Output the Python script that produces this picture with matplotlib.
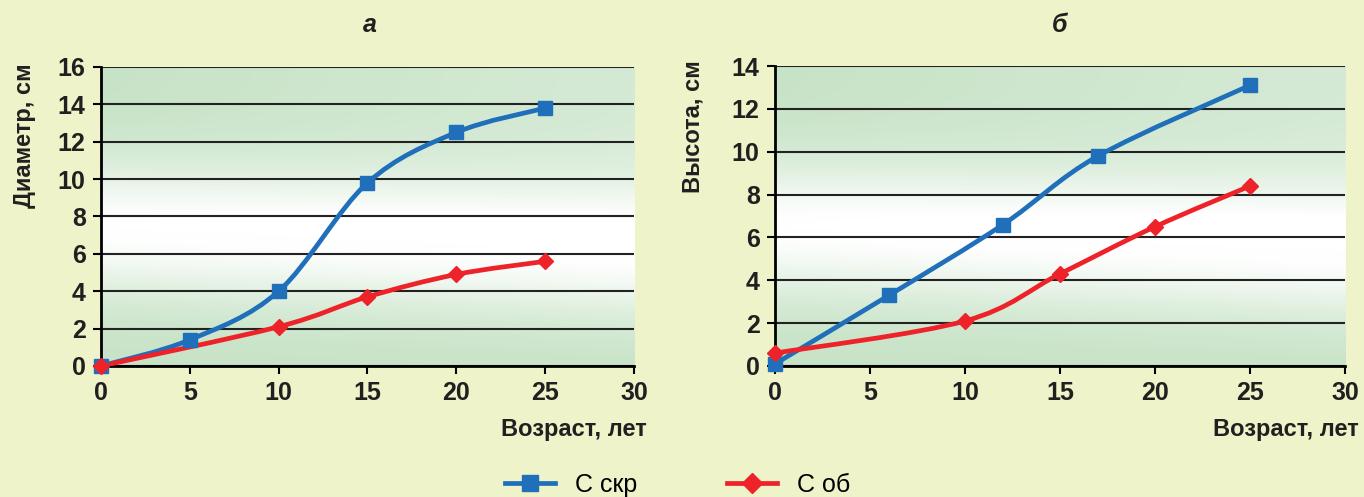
import numpy as np
import matplotlib
matplotlib.use("Agg")
import matplotlib.pyplot as plt
from matplotlib.path import Path
from matplotlib.patches import PathPatch
from matplotlib.lines import Line2D

# --- data ---
age_a_skr = [0, 5, 10, 15, 20, 25]
diam_skr = [0, 1.4, 4.0, 9.8, 12.5, 13.8]
age_a_ob = [0, 10, 15, 20, 25]
diam_ob = [0, 2.1, 3.7, 4.9, 5.6]

age_b_skr = [0, 6, 12, 17, 25]
height_skr = [0.1, 3.3, 6.6, 9.8, 13.1]
age_b_ob = [0, 10, 15, 20, 25]
height_ob = [0.6, 2.1, 4.3, 6.5, 8.4]

x_ticks = [0, 5, 10, 15, 20, 25, 30]
series_names = ["С скр", "С об"]

BG = "#eef3c9"
BLUE = "#1f6fba"
RED = "#ee2229"
FONT = ["Liberation Sans Narrow", "Liberation Sans", "DejaVu Sans"]

plt.rcParams["font.family"] = FONT


def smooth_path(xs, ys):
    """Excel-like smoothed line as cubic Bezier segments."""
    pts = np.column_stack([xs, ys]).astype(float)
    n = len(pts)
    verts = [pts[0]]
    codes = [Path.MOVETO]
    for i in range(n - 1):
        p0 = pts[i - 1] if i > 0 else pts[i]
        p1 = pts[i]
        p2 = pts[i + 1]
        p3 = pts[i + 2] if i + 2 < n else pts[i + 1]
        c1 = p1 + (p2 - p0) / 6.0
        c2 = p2 - (p3 - p1) / 6.0
        verts += [c1, c2, p2]
        codes += [Path.CURVE4] * 3
    return Path(verts, codes)


def gradient(ax, ymax):
    u = np.linspace(0, 1, 200)
    v = np.linspace(0, 1, 200)
    U, V = np.meshgrid(u, v)
    centre = 0.42 - 0.08 * (U - 0.5)
    w = np.exp(-((V - centre) / 0.22) ** 2)
    w = np.clip(w + 0.25 * U * (V > centre), 0, 1)
    green = np.array([0.78, 0.89, 0.78])
    white = np.array([1.0, 1.0, 1.0])
    img = green[None, None, :] * (1 - w[..., None]) + white[None, None, :] * w[..., None]
    ax.imshow(img, extent=[0, 30, 0, ymax], origin="lower", aspect="auto",
              zorder=0, interpolation="bilinear")


def setup(ax, ymax, ystep):
    gradient(ax, ymax)
    ax.set_xlim(0, 30)
    ax.set_ylim(0, ymax)
    ax.set_xticks(x_ticks)
    ax.set_yticks(np.arange(0, ymax + 1, ystep))
    ax.grid(axis="y", color="#222222", linewidth=1.5)
    ax.set_axisbelow(False)
    for s in ["top", "right"]:
        ax.spines[s].set_visible(False)
    for s in ["left", "bottom"]:
        ax.spines[s].set_linewidth(2)
        ax.spines[s].set_zorder(3)
    ax.tick_params(direction="out", length=6, width=1.5, labelsize=18, pad=5)
    for lab in ax.get_xticklabels() + ax.get_yticklabels():
        lab.set_fontweight("bold")
        lab.set_color("#231f20")


def draw(ax, xs, ys, color, marker, ms):
    ax.add_patch(PathPatch(smooth_path(xs, ys), facecolor="none", edgecolor=color,
                           linewidth=3.4, zorder=4, capstyle="round"))
    ax.plot(xs, ys, linestyle="none", marker=marker, color=color, markersize=ms,
            zorder=5, clip_on=False)


fig = plt.figure(figsize=(13.64, 4.97), dpi=100, facecolor=BG)

ax1 = fig.add_axes([0.0740, 0.2636, 0.3908, 0.6016])
setup(ax1, 16, 2)
draw(ax1, age_a_skr, diam_skr, BLUE, "s", 10.5)
draw(ax1, age_a_ob, diam_ob, RED, "D", 8.5)

ax2 = fig.add_axes([0.5682, 0.2636, 0.4179, 0.6036])
setup(ax2, 14, 2)
draw(ax2, age_b_skr, height_skr, BLUE, "s", 10.5)
draw(ax2, age_b_ob, height_ob, RED, "D", 8.5)

# titles
fig.text(0.271, 0.95, "а", fontsize=18, fontweight="bold", style="italic",
         ha="center", va="center", color="#231f20")
fig.text(0.777, 0.95, "б", fontsize=18, fontweight="bold", style="italic",
         ha="center", va="center", color="#231f20")

# axis labels
fig.text(0.018, 0.726, "Диаметр, см", rotation=90, fontsize=17, fontweight="bold",
         ha="center", va="center", color="#231f20")
fig.text(0.508, 0.745, "Высота, см", rotation=90, fontsize=17, fontweight="bold",
         ha="center", va="center", color="#231f20")
fig.text(0.474, 0.135, "Возраст, лет", fontsize=17, fontweight="bold",
         ha="right", va="center", color="#231f20")
fig.text(0.996, 0.135, "Возраст, лет", fontsize=17, fontweight="bold",
         ha="right", va="center", color="#231f20")

# legend
handles = [
    Line2D([], [], color=BLUE, linewidth=3.4, marker="s", markersize=12),
    Line2D([], [], color=RED, linewidth=3.4, marker="D", markersize=10),
]
fig.legend(handles, series_names, loc="center", bbox_to_anchor=(0.497, 0.025),
           ncol=2, frameon=False, fontsize=18, handlelength=2.0, columnspacing=3.6,
           handletextpad=0.8)

fig.savefig("out.png", dpi=100, facecolor=BG)
